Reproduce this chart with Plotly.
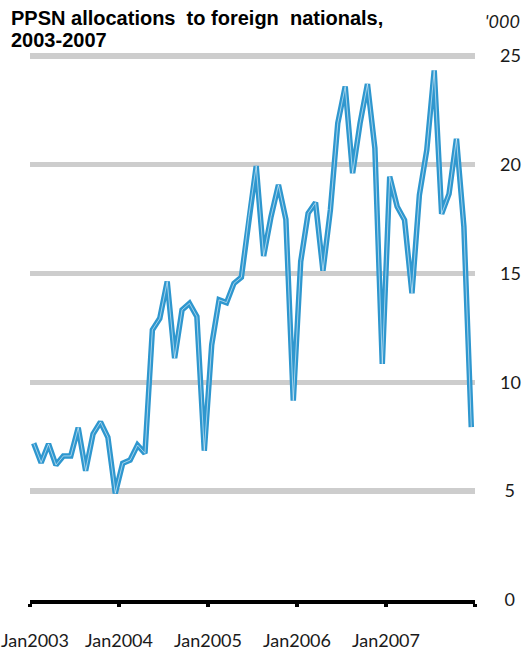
import plotly.graph_objects as go

# Monthly PPSN allocations to foreign nationals ('000), Jan 2003 - Dec 2007
months = [f"{y}-{m:02d}" for y in range(2003, 2008) for m in range(1, 13)]
values = [
    7.20, 6.31, 7.17, 6.20, 6.62, 6.62, 7.92, 5.94, 7.63, 8.18, 7.48, 4.90,
    6.28, 6.43, 7.12, 6.74, 12.41, 12.94, 14.63, 11.11, 13.33, 13.63, 13.02, 6.86,
    11.72, 13.79, 13.66, 14.55, 14.83, 17.62, 19.94, 15.81, 17.62, 19.07, 17.49, 9.16,
    15.55, 17.77, 18.26, 15.13, 17.92, 21.91, 23.59, 19.61, 21.90, 23.71, 20.76, 10.85,
    19.45, 18.08, 17.46, 14.09, 18.61, 20.68, 24.33, 17.74, 18.66, 21.19, 17.16, 7.94,
]
x_tick_labels = ["Jan2003", "Jan2004", "Jan2005", "Jan2006", "Jan2007", ""]
y_tick_values = [0, 5, 10, 15, 20, 25]
y_tick_labels = ["\u00a00", "\u00a05", "10", "15", "20", "25"]
title_lines = ["PPSN allocations  to foreign  nationals,", "2003-2007"]

idx = list(range(len(months)))
x_tick_pos = [i - 0.5 for i in range(0, len(months) + 1, 12)]

BLUE = "#2e97cf"
LABEL_FONT = dict(family="Lato", size=18, color="#1a1a1a")
TITLE_FONT = dict(family="Liberation Sans", size=20, color="black")

W, H = 525, 650
ML, MR, MT, MB = 30, 50, 45, 50
PW, PH = W - ML - MR, H - MT - MB
X_RANGE = [-0.5, len(months) - 0.5]
MONTH_PX = PW / (X_RANGE[1] - X_RANGE[0])


def px_x(x):
    return (x - ML) / PW


def px_y(y):
    return 1 - (y - MT) / PH


fig = go.Figure()
fig.add_trace(go.Scatter(x=idx, y=values, mode="lines",
                         line=dict(color=BLUE, width=5.5), hoverinfo="skip",
                         customdata=months))
# thin white core of the line, drawn on the overlaid (identical) x axis
fig.add_trace(go.Scatter(x=idx, y=values, mode="lines", opacity=0.8,
                         xaxis="x2", yaxis="y",
                         line=dict(color="white", width=0.7), hoverinfo="skip"))

annotations = [
    dict(text=f"<b>{t}</b>", xref="paper", yref="paper",
         x=px_x(9), y=px_y(yc), xanchor="left", yanchor="middle",
         showarrow=False, font=TITLE_FONT)
    for t, yc in zip(title_lines, [18, 40])
]
annotations.append(dict(
    text="<i>'000</i>", xref="paper", yref="paper",
    x=px_x(522), y=px_y(21), xanchor="right", yanchor="middle",
    showarrow=False, font=LABEL_FONT,
))

fig.update_layout(
    width=W, height=H,
    margin=dict(l=ML, r=MR, t=MT, b=MB, autoexpand=False),
    paper_bgcolor="white", plot_bgcolor="white",
    showlegend=False,
    xaxis=dict(
        range=X_RANGE, automargin=False,
        tickmode="array", tickvals=x_tick_pos,
        ticktext=[""] + x_tick_labels[1:],
        showgrid=False, zeroline=False,
        showline=True, linecolor="black", linewidth=4,
        ticks="outside", ticklen=3, tickwidth=4, tickcolor="black",
        tickfont=LABEL_FONT, ticklabelstandoff=18, ticklabeloverflow="allow",
    ),
    # first label sits slightly right of its tick, as in the original
    xaxis2=dict(
        range=X_RANGE, automargin=False, overlaying="x", side="bottom",
        anchor="y",
        tickmode="array", tickvals=[x_tick_pos[0] + 5 / MONTH_PX],
        ticktext=x_tick_labels[:1],
        showgrid=False, zeroline=False, showline=False, ticks="outside",
        ticklen=3, tickwidth=0, tickcolor="rgba(0,0,0,0)",
        tickfont=LABEL_FONT, ticklabelstandoff=21, ticklabeloverflow="allow",
    ),
    yaxis=dict(
        range=[0, 25.5], side="right", automargin=False,
        tickmode="array", tickvals=y_tick_values, ticktext=y_tick_labels,
        showgrid=True, gridcolor="#cdcdcd", gridwidth=5.5,
        zeroline=False, showline=False, ticks="",
        tickfont=LABEL_FONT, ticklabelstandoff=24, ticklabeloverflow="allow",
    ),
    annotations=annotations,
)

fig.write_html(
    "out.html",
    config={"displayModeBar": False, "staticPlot": True},
    post_script="document.body.style.margin='0';document.body.style.padding='0';"
                "document.body.style.overflow='hidden';",
)
